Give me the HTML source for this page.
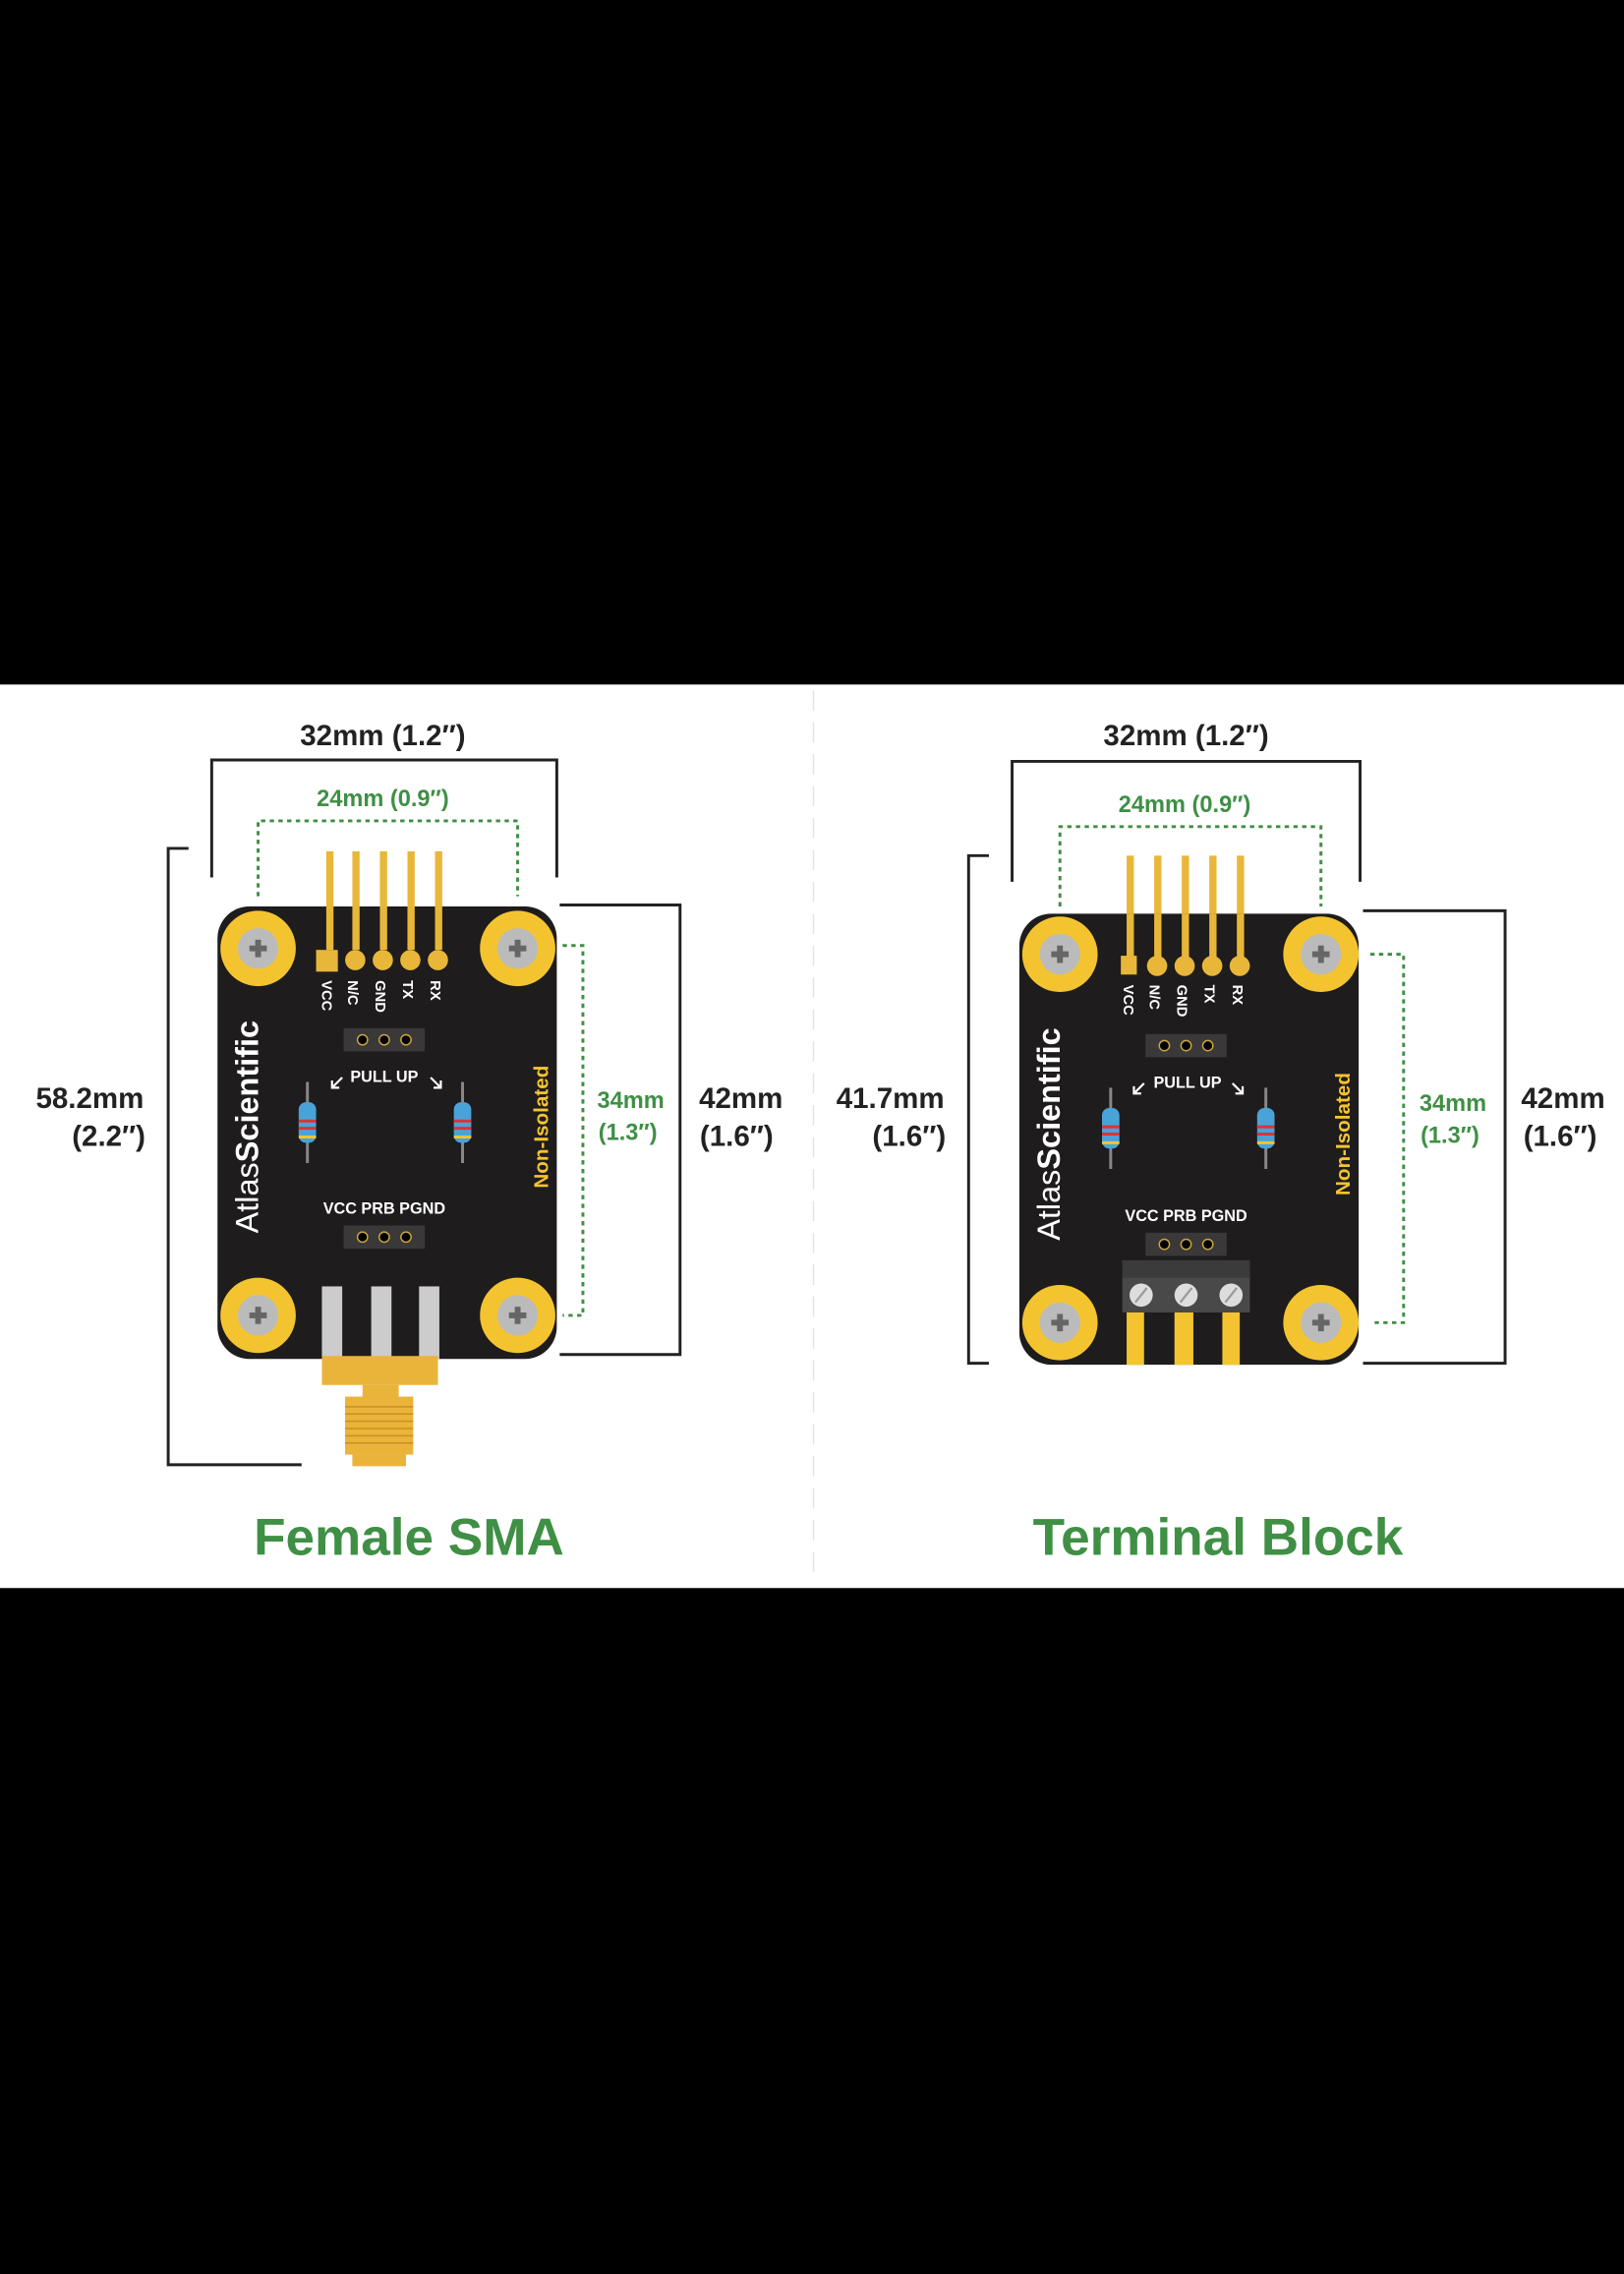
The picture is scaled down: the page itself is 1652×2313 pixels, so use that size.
<!DOCTYPE html>
<html><head><style>html,body{margin:0;padding:0;background:#000}svg{display:block}</style></head><body>
<svg width="1652" height="2313" viewBox="0 0 1120 1568" preserveAspectRatio="none" xmlns="http://www.w3.org/2000/svg" font-family="Liberation Sans, sans-serif">
<rect width="1120" height="1568" fill="#000"/>
<rect y="472" width="1120" height="623" fill="#fff"/>
<line x1="561" y1="476" x2="561" y2="1090" stroke="#e4e4e4" stroke-width="1" stroke-dasharray="14 8"/>

<!-- LEFT -->
<g>
<g fill="none" stroke="#222" stroke-width="2">
<polyline points="146,605 146,524 384,524 384,605"/>
<polyline points="130,585 116,585 116,1010 208,1010"/>
<polyline points="386,624 469,624 469,934 386,934"/>
</g>
<g fill="none" stroke="#3f8f45" stroke-width="2" stroke-dasharray="3 3">
<polyline points="178,618 178,566 357,566 357,618"/>
<polyline points="388,652 402,652 402,907 388,907"/>
</g>
<g font-weight="bold" text-anchor="middle">
<text x="264" y="514" font-size="20" fill="#222">32mm (1.2″)</text>
<text x="264" y="556" font-size="16" fill="#3f8f45">24mm (0.9″)</text>
<text x="62" y="764" font-size="20" fill="#222">58.2mm</text>
<text x="75" y="790" font-size="20" fill="#222">(2.2″)</text>
<text x="511" y="764" font-size="20" fill="#222">42mm</text>
<text x="508" y="790" font-size="20" fill="#222">(1.6″)</text>
<text x="435" y="764" font-size="16" fill="#3f8f45">34mm</text>
<text x="433" y="786" font-size="16" fill="#3f8f45">(1.3″)</text>
<text x="282" y="1072" font-size="36" fill="#3f8f45">Female SMA</text>
</g>
<!-- pins -->
<g fill="#e8b73a"><rect x="225" y="587" width="5" height="45"/><rect x="243" y="587" width="5" height="45"/><rect x="262" y="587" width="5" height="45"/><rect x="281" y="587" width="5" height="45"/><rect x="300" y="587" width="5" height="45"/></g>
<rect x="150" y="625" width="234" height="312" rx="22" fill="#1e1c1c"/>
<g fill="#e8b73a"><rect x="225" y="625" width="5" height="30"/><rect x="243" y="625" width="5" height="30"/><rect x="262" y="625" width="5" height="30"/><rect x="281" y="625" width="5" height="30"/><rect x="300" y="625" width="5" height="30"/>
<rect x="218" y="655" width="15" height="15"/><circle cx="245" cy="662" r="7"/><circle cx="264" cy="662" r="7"/><circle cx="283" cy="662" r="7"/><circle cx="302" cy="662" r="7"/></g>
<g fill="#fff" font-size="10" font-weight="bold">
<text transform="translate(222,676) rotate(90)">VCC</text><text transform="translate(240,676) rotate(90)">N/C</text><text transform="translate(259,676) rotate(90)">GND</text><text transform="translate(278,676) rotate(90)">TX</text><text transform="translate(297,676) rotate(90)">RX</text>
<text x="265" y="746" text-anchor="middle" font-size="11">PULL UP</text>
<text x="265" y="837" text-anchor="middle" font-size="11">VCC  PRB  PGND</text>
<text transform="translate(378,777) rotate(-90)" text-anchor="middle" font-size="14" fill="#f4c430">Non-Isolated</text>
</g>
<text transform="translate(178,777) rotate(-90)" text-anchor="middle" font-size="22" fill="#fff"><tspan font-weight="normal">Atlas</tspan><tspan font-weight="bold">Scientific</tspan></text>
<rect x="237" y="709" width="56" height="16" fill="#3a3838"/><g fill="#000" stroke="#c9a640" stroke-width="1"><circle cx="250" cy="717" r="3.5"/><circle cx="265" cy="717" r="3.5"/><circle cx="280" cy="717" r="3.5"/></g>
<rect x="237" y="845" width="56" height="16" fill="#3a3838"/><g fill="#000" stroke="#c9a640" stroke-width="1"><circle cx="250" cy="853" r="3.5"/><circle cx="265" cy="853" r="3.5"/><circle cx="280" cy="853" r="3.5"/></g>
<g stroke="#fff" stroke-width="1.5" fill="none"><path d="M236,743 l-7,7 m0,-5 v5 h5"/><path d="M297,743 l7,7 m0,-5 v5 h-5"/></g>
<g><line x1="212" y1="746" x2="212" y2="802" stroke="#888" stroke-width="2"/><rect x="206" y="760" width="12" height="28" rx="5" fill="#4aa3d8"/><rect x="206" y="772" width="12" height="2" fill="#d33"/><rect x="206" y="777" width="12" height="2" fill="#d33"/><rect x="206" y="783" width="12" height="2" fill="#f4c430"/>
<line x1="319" y1="746" x2="319" y2="802" stroke="#888" stroke-width="2"/><rect x="313" y="760" width="12" height="28" rx="5" fill="#4aa3d8"/><rect x="313" y="772" width="12" height="2" fill="#d33"/><rect x="313" y="777" width="12" height="2" fill="#d33"/><rect x="313" y="783" width="12" height="2" fill="#f4c430"/></g>
<g fill="#ccc"><rect x="222" y="887" width="14" height="50"/><rect x="256" y="887" width="14" height="50"/><rect x="289" y="887" width="14" height="50"/></g>
<g fill="#eab33a"><rect x="222" y="935" width="80" height="20"/><rect x="250" y="955" width="25" height="10"/><rect x="238" y="963" width="47" height="40"/><rect x="243" y="1003" width="37" height="8"/></g>
<g stroke="#c98f20" stroke-width="1"><line x1="238" y1="970" x2="285" y2="970"/><line x1="238" y1="975" x2="285" y2="975"/><line x1="238" y1="980" x2="285" y2="980"/><line x1="238" y1="985" x2="285" y2="985"/><line x1="238" y1="990" x2="285" y2="990"/><line x1="238" y1="995" x2="285" y2="995"/></g>
<g>
<circle cx="178" cy="654" r="26" fill="#f4c430"/><circle cx="178" cy="654" r="14" fill="#bbb"/><path d="M172,652h12v4h-12zM176,648h4v12h-4z" fill="#666"/>
<circle cx="357" cy="654" r="26" fill="#f4c430"/><circle cx="357" cy="654" r="14" fill="#bbb"/><path d="M351,652h12v4h-12zM355,648h4v12h-4z" fill="#666"/>
<circle cx="178" cy="907" r="26" fill="#f4c430"/><circle cx="178" cy="907" r="14" fill="#bbb"/><path d="M172,905h12v4h-12zM176,901h4v12h-4z" fill="#666"/>
<circle cx="357" cy="907" r="26" fill="#f4c430"/><circle cx="357" cy="907" r="14" fill="#bbb"/><path d="M351,905h12v4h-12zM355,901h4v12h-4z" fill="#666"/>
</g>
</g>

<!-- RIGHT -->
<g>
<g fill="none" stroke="#222" stroke-width="2">
<polyline points="698,608 698,525 938,525 938,608"/>
<polyline points="682,590 668,590 668,940 682,940"/>
<polyline points="940,628 1038,628 1038,940 940,940"/>
</g>
<g fill="none" stroke="#3f8f45" stroke-width="2" stroke-dasharray="3 3">
<polyline points="731,625 731,570 911,570 911,625"/>
<polyline points="945,658 968,658 968,912 945,912"/>
</g>
<g font-weight="bold" text-anchor="middle">
<text x="818" y="514" font-size="20" fill="#222">32mm (1.2″)</text>
<text x="817" y="560" font-size="16" fill="#3f8f45">24mm (0.9″)</text>
<text x="614" y="764" font-size="20" fill="#222">41.7mm</text>
<text x="627" y="790" font-size="20" fill="#222">(1.6″)</text>
<text x="1078" y="764" font-size="20" fill="#222">42mm</text>
<text x="1076" y="790" font-size="20" fill="#222">(1.6″)</text>
<text x="1002" y="766" font-size="16" fill="#3f8f45">34mm</text>
<text x="1000" y="788" font-size="16" fill="#3f8f45">(1.3″)</text>
<text x="840" y="1072" font-size="36" fill="#3f8f45">Terminal Block</text>
</g>
<g fill="#e8b73a"><rect x="777" y="590" width="5" height="45"/><rect x="796" y="590" width="5" height="45"/><rect x="815" y="590" width="5" height="45"/><rect x="834" y="590" width="5" height="45"/><rect x="853" y="590" width="5" height="45"/></g>
<rect x="703" y="630" width="234" height="311" rx="22" fill="#1e1c1c"/>
<g fill="#e8b73a"><rect x="777" y="630" width="5" height="30"/><rect x="796" y="630" width="5" height="30"/><rect x="815" y="630" width="5" height="30"/><rect x="834" y="630" width="5" height="30"/><rect x="853" y="630" width="5" height="30"/>
<rect x="773" y="659" width="11" height="13"/><circle cx="798" cy="666" r="7"/><circle cx="817" cy="666" r="7"/><circle cx="836" cy="666" r="7"/><circle cx="855" cy="666" r="7"/></g>
<g fill="#fff" font-size="10" font-weight="bold">
<text transform="translate(775,679) rotate(90)">VCC</text><text transform="translate(793,679) rotate(90)">N/C</text><text transform="translate(812,679) rotate(90)">GND</text><text transform="translate(831,679) rotate(90)">TX</text><text transform="translate(850,679) rotate(90)">RX</text>
<text x="819" y="750" text-anchor="middle" font-size="11">PULL UP</text>
<text x="818" y="842" text-anchor="middle" font-size="11">VCC  PRB  PGND</text>
<text transform="translate(931,782) rotate(-90)" text-anchor="middle" font-size="14" fill="#f4c430">Non-Isolated</text>
</g>
<text transform="translate(731,782) rotate(-90)" text-anchor="middle" font-size="22" fill="#fff"><tspan>Atlas</tspan><tspan font-weight="bold">Scientific</tspan></text>
<rect x="790" y="713" width="56" height="16" fill="#3a3838"/><g fill="#000" stroke="#c9a640" stroke-width="1"><circle cx="803" cy="721" r="3.5"/><circle cx="818" cy="721" r="3.5"/><circle cx="833" cy="721" r="3.5"/></g>
<rect x="790" y="850" width="56" height="16" fill="#3a3838"/><g fill="#000" stroke="#c9a640" stroke-width="1"><circle cx="803" cy="858" r="3.5"/><circle cx="818" cy="858" r="3.5"/><circle cx="833" cy="858" r="3.5"/></g>
<g stroke="#fff" stroke-width="1.5" fill="none"><path d="M789,747 l-7,7 m0,-5 v5 h5"/><path d="M850,747 l7,7 m0,-5 v5 h-5"/></g>
<g><line x1="766" y1="750" x2="766" y2="806" stroke="#888" stroke-width="2"/><rect x="760" y="764" width="12" height="28" rx="5" fill="#4aa3d8"/><rect x="760" y="776" width="12" height="2" fill="#d33"/><rect x="760" y="781" width="12" height="2" fill="#d33"/><rect x="760" y="787" width="12" height="2" fill="#f4c430"/>
<line x1="873" y1="750" x2="873" y2="806" stroke="#888" stroke-width="2"/><rect x="867" y="764" width="12" height="28" rx="5" fill="#4aa3d8"/><rect x="867" y="776" width="12" height="2" fill="#d33"/><rect x="867" y="781" width="12" height="2" fill="#d33"/><rect x="867" y="787" width="12" height="2" fill="#f4c430"/></g>
<rect x="774" y="869" width="88" height="12" fill="#3c3b3b"/><rect x="774" y="881" width="88" height="24" fill="#4a4949"/>
<g fill="#ddd"><circle cx="787" cy="893" r="8"/><circle cx="818" cy="893" r="8"/><circle cx="849" cy="893" r="8"/></g>
<g stroke="#999" stroke-width="1.5"><line x1="783" y1="898" x2="791" y2="888"/><line x1="814" y1="898" x2="822" y2="888"/><line x1="845" y1="898" x2="853" y2="888"/></g>
<g fill="#f4c430"><rect x="777" y="905" width="12" height="36"/><rect x="810" y="905" width="13" height="36"/><rect x="843" y="905" width="12" height="36"/></g>
<g>
<circle cx="731" cy="658" r="26" fill="#f4c430"/><circle cx="731" cy="658" r="14" fill="#bbb"/><path d="M725,656h12v4h-12zM729,652h4v12h-4z" fill="#666"/>
<circle cx="911" cy="658" r="26" fill="#f4c430"/><circle cx="911" cy="658" r="14" fill="#bbb"/><path d="M905,656h12v4h-12zM909,652h4v12h-4z" fill="#666"/>
<circle cx="731" cy="912" r="26" fill="#f4c430"/><circle cx="731" cy="912" r="14" fill="#bbb"/><path d="M725,910h12v4h-12zM729,906h4v12h-4z" fill="#666"/>
<circle cx="911" cy="912" r="26" fill="#f4c430"/><circle cx="911" cy="912" r="14" fill="#bbb"/><path d="M905,910h12v4h-12zM909,906h4v12h-4z" fill="#666"/>
</g>
</g>
</svg>
</body></html>
